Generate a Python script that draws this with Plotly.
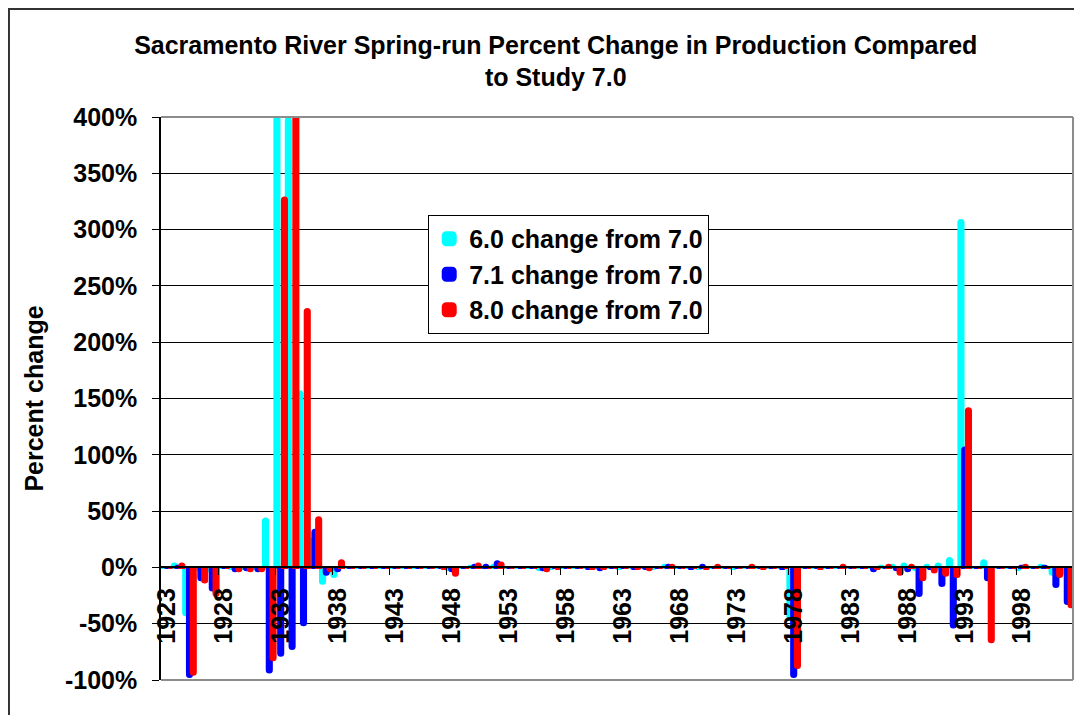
import plotly.graph_objects as go

# ---------------- data ----------------
years = list(range(1923, 2003))

change_60 = [0, 3, -42, -2, -3, 0, -1, -1, -1, 43,
             450, 399, 156, 25, -14, -8, 0, 0, 0, 0,
             0, 0, 0, 0, 0, -2, 0, 1, 0, 2,
             0, 0, 0, -2, -1, 0, 0, 0, 0, 0,
             -1, 0, 0, -1, 2, 0, 0, -1, 0, 0,
             -1, 0, 0, 0, 0, -45, 0, 0, 0, 0,
             0, 0, 0, 1, 2, 3, -2, 2, 3, 8,
             308, 0, 6, 0, 0, -2, 0, 2, -6, -5]

change_71 = [0, 1, -97, -11, -20, 0, -3, -2, -3, -93,
             -78, -72, -51, 33, -6, -3, 0, 0, 0, 0,
             0, 0, 0, 0, 0, -3, 0, 2, 2, 5,
             0, 0, 0, -2, 0, 0, 0, -1, -2, 0,
             0, -1, -1, 0, 2, 0, -1, 2, 0, 0,
             0, 0, 0, 0, -1, -97, 0, 0, 0, 0,
             0, 0, -3, 0, -2, -3, -25, -1, -16, -53,
             106, 0, -11, 0, 0, 1, 0, 1, -17, -32]

change_80 = [0, 3, -95, -13, -25, 0, -3, -3, -3, -82,
             328, 420, 229, 44, -3, 6, 0, 0, 0, 0,
             0, 0, 0, 0, -1, -7, 0, 3, 0, 4,
             0, 0, 0, -3, -1, 0, 0, -1, -1, 0,
             0, -1, -2, 0, 2, 0, 0, -1, 2, 0,
             0, 2, -1, 0, 0, -89, 0, -1, 0, 2,
             0, 0, -1, 2, -6, 2, -11, -4, -7, -8,
             141, 0, -66, 0, 0, 2, 0, 0, -8, -35]

series_names = ["6.0 change from 7.0", "7.1 change from 7.0", "8.0 change from 7.0"]
series_colors = ["#00FFFF", "#0000FF", "#FF0000"]

x_tick_years = list(range(1923, 2003, 5))
x_tick_labels = [str(y) for y in x_tick_years]
y_tick_vals = [-100, -50, 0, 50, 100, 150, 200, 250, 300, 350, 400]
y_tick_labels = [f"{v}%" for v in y_tick_vals]

title_text = "Sacramento River Spring-run Percent Change in Production Compared<br>to Study 7.0"

# ---------------- figure ----------------
FONT = "Liberation Sans, Arial, sans-serif"
fig = go.Figure()

bar_width = 0.36
bar_offsets = [-0.51, -0.18, 0.15]
for name, vals, col, off in zip(series_names, [change_60, change_71, change_80],
                                series_colors, bar_offsets):
    fig.add_trace(go.Bar(
        x=years, y=vals, name=name,
        width=bar_width, offset=off,
        marker=dict(color=col, line=dict(color=col, width=3), cornerradius=2),
    ))

grey = "#8c8c8c"
fig.update_layout(
    width=1074, height=707,
    margin=dict(l=153, r=9, t=109, b=35, autoexpand=False),
    paper_bgcolor="white", plot_bgcolor="white",
    barmode="overlay",
    showlegend=True,
    font=dict(family=FONT, color="black"),
    title=dict(text=title_text, x=0.51, xref="container", xanchor="center",
               y=0.935, yref="container", yanchor="top",
               font=dict(family=FONT, size=25, weight="bold", color="black")),
    legend=dict(x=0.293, y=0.826, xanchor="left", yanchor="top",
                bgcolor="white", bordercolor="black", borderwidth=1,
                font=dict(family=FONT, size=25, weight="bold", color="black"),
                tracegroupgap=0),
    xaxis=dict(range=[1922.5, 2002.5], anchor="free", position=0.2,
               tickmode="array", tickvals=x_tick_years, ticktext=x_tick_labels,
               tickangle=-90, ticks="", ticklabelstandoff=10,
               tickfont=dict(family=FONT, size=25, weight="bold", color="black"),
               showgrid=False, zeroline=False,
               showline=True, linecolor="black", linewidth=1.5,
               minor=dict(tickvals=[y - 0.5 for y in x_tick_years[1:]],
                          ticks="outside", ticklen=7, tickcolor="black",
                          tickwidth=1, showgrid=False)),
    yaxis=dict(range=[-100, 400], tickmode="array", tickvals=y_tick_vals,
               ticktext=y_tick_labels, ticks="outside", ticklen=7,
               tickcolor="black", ticklabelstandoff=10,
               tickfont=dict(family=FONT, size=25, weight="bold", color="black"),
               showgrid=True, gridcolor="black", gridwidth=1,
               zeroline=False, showline=True, linecolor="black", linewidth=1.5,
               title=dict(text="Percent change", standoff=14,
                          font=dict(family=FONT, size=25, weight="bold", color="black"))),
    shapes=[
        dict(type="line", xref="paper", yref="paper", x0=0, x1=1, y0=1, y1=1,
             line=dict(color=grey, width=2), layer="above"),
        dict(type="line", xref="paper", yref="paper", x0=1, x1=1, y0=0, y1=1,
             line=dict(color=grey, width=2), layer="above"),
        dict(type="line", xref="paper", yref="paper", x0=0, x1=1, y0=0, y1=0,
             line=dict(color=grey, width=2), layer="above"),
        dict(type="rect", xref="paper", yref="paper",
             x0=-0.1667, x1=1.03, y0=-0.1, y1=1.1918,
             line=dict(color="#333333", width=2), layer="above"),
    ],
)

fig.write_html("out.html")
